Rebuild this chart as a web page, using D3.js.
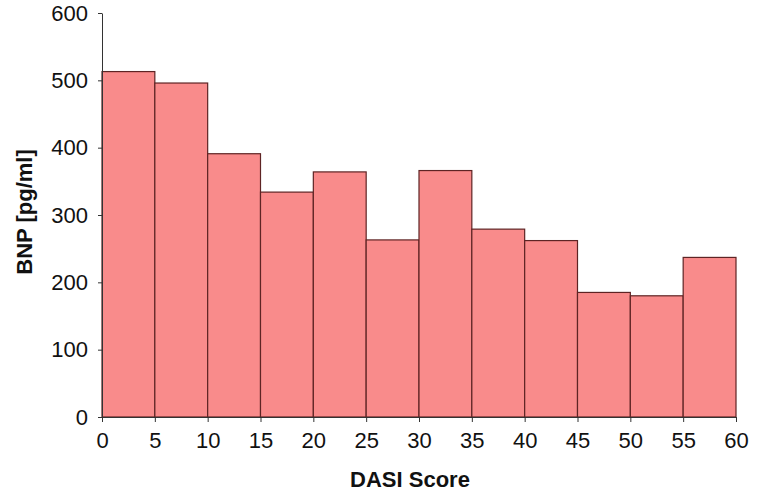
<!DOCTYPE html>
<html>
<head>
<meta charset="utf-8">
<script src="https://cdn.jsdelivr.net/npm/d3@7"></script>
<style>
  body { margin: 0; background: #fff; }
  svg { display: block; }
</style>
</head>
<body>
<svg id="chart"></svg>
<script>
// DASI score bins (lower edge, 5 wide) and mean BNP per bin
const binStarts = [0, 5, 10, 15, 20, 25, 30, 35, 40, 45, 50, 55];
const bnpValues = [513, 496, 391, 334, 364, 263, 366, 279, 262, 185, 180, 237];
const xTicks = [0, 5, 10, 15, 20, 25, 30, 35, 40, 45, 50, 55, 60];
const yTicks = [0, 100, 200, 300, 400, 500, 600];

const w = 764, h = 501;
const margin = { top: 13, right: 28, bottom: 84, left: 102 };

const svg = d3.select("#chart").attr("width", w).attr("height", h);

const xScale = d3.scaleLinear().domain([0, 60]).range([margin.left, w - margin.right]);
const yScale = d3.scaleLinear().domain([0, 600]).range([h - margin.bottom, margin.top]);

const bins = binStarts.map((s, i) => ({ x0: s, x1: s + 5, value: bnpValues[i] }));

// bars
svg.append("g")
  .selectAll("rect")
  .data(bins)
  .join("rect")
    .attr("x", d => xScale(d.x0))
    .attr("y", d => yScale(d.value))
    .attr("width", d => xScale(d.x1) - xScale(d.x0))
    .attr("height", d => yScale(0) - yScale(d.value))
    .attr("fill", "#f98b8b")
    .attr("stroke", "#5e2424")
    .attr("stroke-width", 1.2);

// axes
const xAxis = g => g
  .attr("transform", `translate(0,${yScale(0)})`)
  .call(d3.axisBottom(xScale).tickValues(xTicks).tickSize(5).tickPadding(10).tickSizeOuter(0))
  .call(g => g.selectAll("text").attr("font-size", 22));

const yAxis = g => g
  .attr("transform", `translate(${margin.left},0)`)
  .call(d3.axisLeft(yScale).tickValues(yTicks).tickSize(4).tickPadding(10).tickSizeOuter(0))
  .call(g => g.selectAll("text").attr("font-size", 22));

svg.append("g").call(xAxis);
svg.append("g").call(yAxis);

svg.selectAll(".domain, .tick line").attr("stroke", "#333");
svg.selectAll(".tick text")
  .attr("fill", "#111")
  .attr("font-family", "'Liberation Sans', Arial, sans-serif");

// axis titles
svg.append("text")
  .attr("x", 410)
  .attr("y", 487)
  .attr("text-anchor", "middle")
  .style("font-family", "'Liberation Sans', Arial, sans-serif")
  .style("font-size", "22px")
  .style("font-weight", "bold")
  .attr("fill", "#111")
  .text("DASI Score");

svg.append("text")
  .attr("transform", "translate(32,212) rotate(-90)")
  .attr("text-anchor", "middle")
  .style("font-family", "'Liberation Sans', Arial, sans-serif")
  .style("font-size", "22px")
  .style("font-weight", "bold")
  .attr("fill", "#111")
  .text("BNP [pg/ml]");
</script>
</body>
</html>
